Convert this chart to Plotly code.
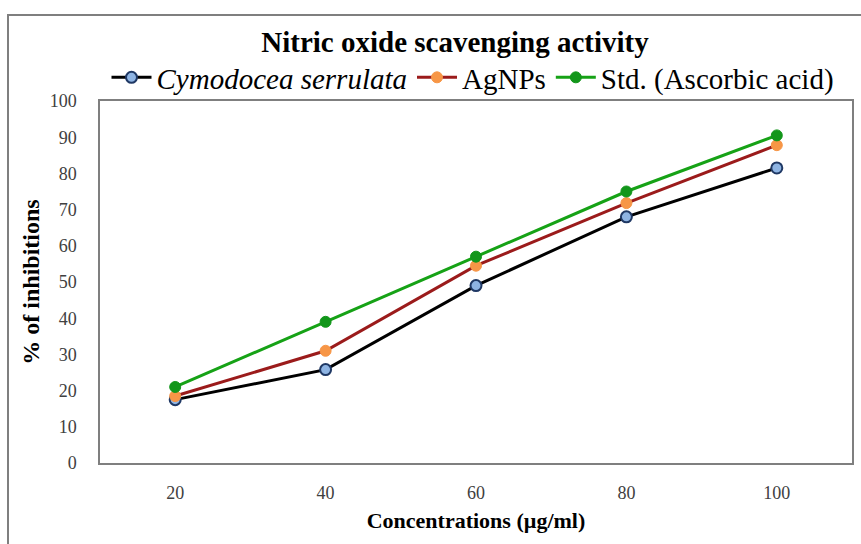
import plotly.graph_objects as go

concentrations = ["20", "40", "60", "80", "100"]
cymodocea = [17.5, 25.8, 49.0, 68.0, 81.5]
agnps = [18.5, 31.0, 54.5, 71.8, 87.8]
standard = [21.0, 39.0, 57.0, 75.0, 90.5]
y_ticks = [0, 10, 20, 30, 40, 50, 60, 70, 80, 90, 100]

fig = go.Figure()
fig.add_trace(go.Scatter(
    x=concentrations, y=cymodocea, mode="lines+markers",
    name="<i>Cymodocea serrulata</i>",
    line=dict(color="#000000", width=3),
    marker=dict(size=11, color="#8EB4E3", line=dict(color="#1F3864", width=2)),
))
fig.add_trace(go.Scatter(
    x=concentrations, y=agnps, mode="lines+markers",
    name="AgNPs",
    line=dict(color="#9B1B1B", width=3),
    marker=dict(size=11, color="#F79646", line=dict(color="#F79646", width=1)),
))
fig.add_trace(go.Scatter(
    x=concentrations, y=standard, mode="lines+markers",
    name="Std. (Ascorbic acid)",
    line=dict(color="#16A216", width=3),
    marker=dict(size=11, color="#12961A", line=dict(color="#12961A", width=1)),
))

serif = "Liberation Serif, Times New Roman, serif"
fig.update_layout(
    width=861, height=544,
    margin=dict(l=100, r=9, t=101, b=81),
    paper_bgcolor="white", plot_bgcolor="white",
    font=dict(family=serif, color="#000000"),
    title=dict(text="<b>Nitric oxide scavenging activity</b>", x=(455 - 100) / 752, xref="paper",
               xanchor="center", y=1 - 42 / 544, yanchor="middle",
               font=dict(size=29, family=serif, color="#000")),
    legend=dict(orientation="h", x=(473 - 100) / 752, xanchor="center", y=1.065, yanchor="middle",
                font=dict(size=29, family=serif, color="#000"), itemwidth=40,
                bgcolor="rgba(0,0,0,0)"),
    showlegend=True,
)
fig.update_xaxes(
    type="category", range=[-0.5, 4.5], showline=True, linecolor="#7F7F7F", linewidth=1.5,
    mirror=True, showgrid=False, ticks="", ticklabelstandoff=13, automargin=False,
    tickfont=dict(size=18, color="#404040", family=serif),
    title=dict(text="<b>Concentrations (µg/ml)</b>", font=dict(size=22, family=serif, color="#000"),
               standoff=10),
)
fig.update_yaxes(
    range=[0, 100], tickvals=y_ticks, showline=True, linecolor="#7F7F7F", linewidth=1.5,
    mirror=True, showgrid=False, ticks="", zeroline=False, ticklabelstandoff=18,
    automargin=False,
    tickfont=dict(size=18, color="#404040", family=serif),
    title=dict(text="<b>% of inhibitions</b>", font=dict(size=24, family=serif, color="#000"),
               standoff=3),
)
# outer frame of the original picture
fig.add_shape(type="rect", xref="paper", yref="paper",
              x0=(8 - 100) / 752, x1=1.2, y0=-0.6, y1=(463 - 15) / 362,
              line=dict(color="#7F7F7F", width=2), layer="below")
fig.write_html("out.html")
